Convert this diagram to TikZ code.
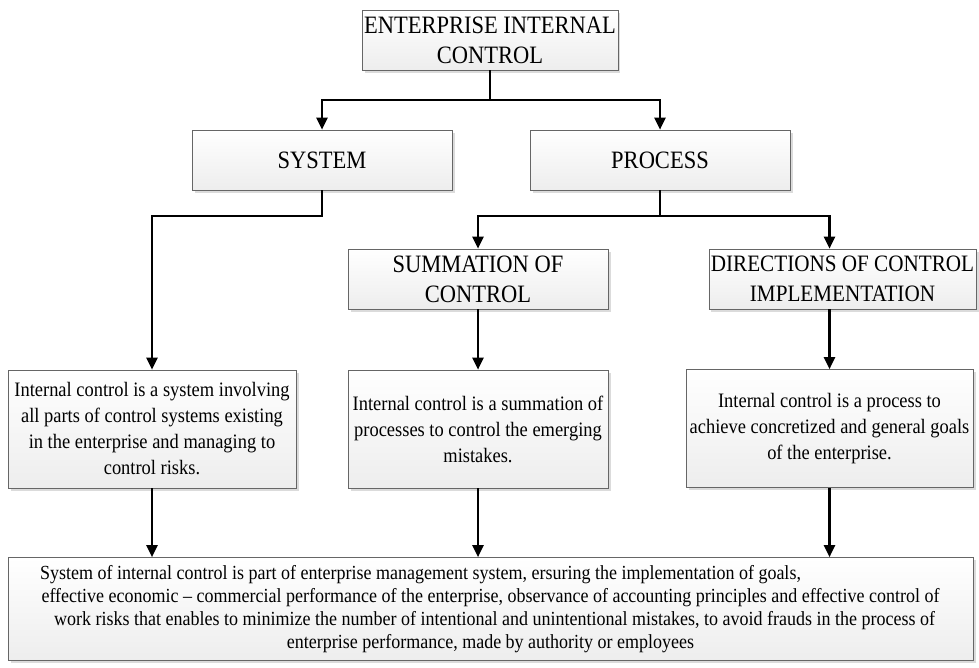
\documentclass[tikz,border=0pt]{standalone}
\usepackage{fontspec}
\setmainfont{Liberation Serif}[FakeStretch=0.9]
\usetikzlibrary{arrows.meta,shadows}

\begin{document}
\begin{tikzpicture}[x=1pt,y=-1pt,
        box/.style={draw=gray!80!black, line width=0.7pt, top color=white, bottom color=gray!14,
            drop shadow={shadow xshift=2.5pt, shadow yshift=-2.5pt, fill=gray!35, opacity=0.8},
            align=center, inner sep=2pt},
        head/.style={box, minimum height=60pt, font=\fontsize{25}{30}\selectfont},
        note/.style={box, minimum height=118pt, font=\fontsize{20.5}{26}\selectfont},
        link/.style={line width=2.2pt, -{Triangle[length=12pt,width=11pt]}}]
        \useasboundingbox (0,0) rectangle (979,667);

        % upper levels
        \node[head, minimum width=248pt] (eic) at (490,40) {ENTERPRISE INTERNAL\\CONTROL};
        \node[head, minimum width=260pt] (sys) at (322,160) {SYSTEM};
        \node[head, minimum width=260pt] (proc) at (660,160) {PROCESS};
        \node[head, minimum width=260pt] (summ) at (478,279) {SUMMATION OF\\CONTROL};
        \node[head, minimum width=261pt, font=\fontsize{23.5}{30}\selectfont] (dirs) at (842.5,279) {DIRECTIONS OF CONTROL\\IMPLEMENTATION};

        % definitions
        \node[note, minimum width=288pt] (sysdef) at (152,429) {Internal control is a system involving\\all parts of control systems existing\\in the enterprise and managing to\\control risks.};
        \node[note, minimum width=260pt] (summdef) at (478,429) {Internal control is a summation of\\processes to control the emerging\\mistakes.};
        \node[note, minimum width=287pt] (dirdef) at (829.5,428.5) {Internal control is a process to\\achieve concretized and general goals\\of the enterprise.};

        \node[box, minimum width=965pt, minimum height=103pt, font=\fontsize{20}{23}\selectfont] (whole) at (490.5,609)
            {System of internal control is part of enterprise  management system, ersuring the implementation of  goals,\hspace*{140pt}\\
             effective economic -- commercial performance of the enterprise,  observance of accounting principles and effective control of\\
             \hspace*{8pt}work risks that enables to minimize the number of intentional and unintentional mistakes, to avoid frauds in the process of\\
             enterprise performance, made by authority or employees};

        % connectors
        \draw[link] (eic.south) -- ++(0,30) -| (sys.north);
        \draw[link] (eic.south) -- ++(0,30) -| (proc.north);
        \draw[link] (sys.south) -- ++(0,26) -| (sysdef.north);
        \draw[link] (proc.south) -- ++(0,26) -| (summ.north);
        \draw[link] (proc.south) -- ++(0,26) -| (dirs.north -| dirdef.north);
        \draw[link] (summ.south) -- (summdef.north);
        \draw[link] (dirs.south -| dirdef.north) -- (dirdef.north);
        \draw[link] (sysdef.south) -- (sysdef.south |- whole.north);
        \draw[link] (summdef.south) -- (summdef.south |- whole.north);
        \draw[link] (dirdef.south) -- (dirdef.south |- whole.north);
    \end{tikzpicture}
\end{document}
